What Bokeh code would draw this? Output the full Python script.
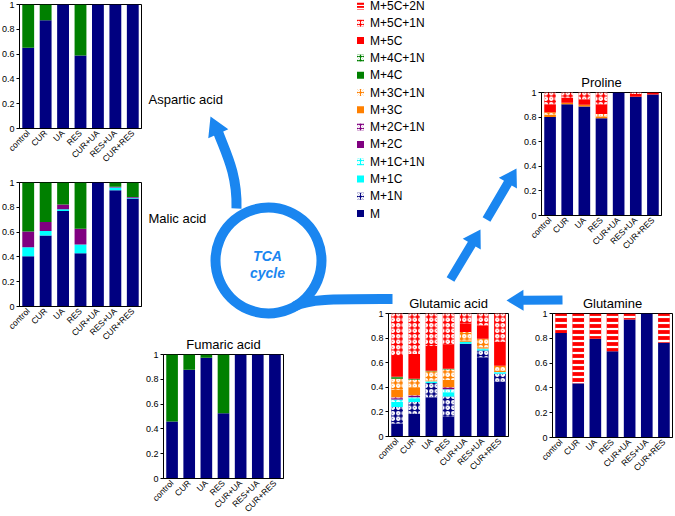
from math import pi, hypot
from bokeh.plotting import figure
from bokeh.models import GridBox, Range1d, FactorRange, ColumnDataSource, FixedTicker
from bokeh.embed import file_html
from bokeh.resources import INLINE
from bokeh.core.properties import value

# ---------------- data ----------------
categories = ["control", "CUR", "UA", "RES", "CUR+UA", "RES+UA", "CUR+RES"]

# Aspartic acid
asp_M   = [0.651, 0.873, 1.000, 0.589, 1.000, 1.000, 1.000]
asp_M4C = [0.349, 0.127, 0.000, 0.411, 0.000, 0.000, 0.000]

# Malic acid
mal_M   = [0.405, 0.573, 0.770, 0.430, 1.000, 0.938, 0.870]
mal_M1C = [0.073, 0.035, 0.014, 0.070, 0.000, 0.021, 0.008]
mal_M2C = [0.127, 0.073, 0.038, 0.127, 0.000, 0.006, 0.006]
mal_M4C = [0.395, 0.319, 0.178, 0.373, 0.000, 0.035, 0.116]

# Fumaric acid
fum_M   = [0.459, 0.878, 0.973, 0.527, 1.000, 1.000, 1.000]
fum_M4C = [0.541, 0.122, 0.027, 0.473, 0.000, 0.000, 0.000]

# Proline
pro_M     = [0.800, 0.905, 0.886, 0.790, 1.000, 0.965, 0.984]
pro_M3C   = [0.020, 0.012, 0.014, 0.015, 0.000, 0.000, 0.000]
pro_M3C1N = [0.020, 0.000, 0.000, 0.020, 0.000, 0.000, 0.000]
pro_M5C   = [0.065, 0.040, 0.046, 0.080, 0.000, 0.022, 0.016]
pro_M5C1N = [0.095, 0.043, 0.054, 0.095, 0.000, 0.013, 0.000]

# Glutamic acid
glu_M     = [0.105, 0.185, 0.320, 0.160, 0.755, 0.645, 0.445]
glu_M1N   = [0.135, 0.095, 0.115, 0.165, 0.000, 0.055, 0.065]
glu_M1C   = [0.040, 0.030, 0.010, 0.035, 0.015, 0.010, 0.010]
glu_M1C1N = [0.020, 0.010, 0.005, 0.025, 0.000, 0.005, 0.005]
glu_M2C   = [0.010, 0.010, 0.000, 0.010, 0.000, 0.000, 0.000]
glu_M2C1N = [0.010, 0.005, 0.000, 0.005, 0.000, 0.000, 0.000]
glu_M3C   = [0.060, 0.065, 0.005, 0.060, 0.010, 0.010, 0.010]
glu_M3C1N = [0.090, 0.060, 0.075, 0.080, 0.070, 0.070, 0.040]
glu_M4C   = [0.010, 0.005, 0.005, 0.005, 0.000, 0.000, 0.000]
glu_M4C1N = [0.005, 0.005, 0.000, 0.005, 0.000, 0.000, 0.000]
glu_M5C   = [0.170, 0.200, 0.200, 0.200, 0.070, 0.110, 0.195]
glu_M5C1N = [0.345, 0.330, 0.265, 0.250, 0.080, 0.095, 0.230]

# Glutamine
gln_M     = [0.843, 0.438, 0.797, 0.695, 0.951, 1.000, 0.765]
gln_M5C2N = [0.157, 0.562, 0.203, 0.305, 0.049, 0.000, 0.235]

legend_labels = ["M+5C+2N", "M+5C+1N", "M+5C", "M+4C+1N", "M+4C", "M+3C+1N", "M+3C",
                 "M+2C+1N", "M+2C", "M+1C+1N", "M+1C", "M+1N", "M"]

# ---------------- styles ----------------
NAVY, CYAN, PURPLE, ORANGE, GREEN, RED = "#000080", "#00FFFF", "#800080", "#FF8000", "#008000", "#FF0000"
STYLE = {
    "M": (NAVY, "blank"), "M+1N": (NAVY, "ring"),
    "M+1C": (CYAN, "blank"), "M+1C+1N": (CYAN, "ring"),
    "M+2C": (PURPLE, "blank"), "M+2C+1N": (PURPLE, "ring"),
    "M+3C": (ORANGE, "blank"), "M+3C+1N": (ORANGE, "ring"),
    "M+4C": (GREEN, "blank"), "M+4C+1N": (GREEN, "ring"),
    "M+5C": (RED, "blank"), "M+5C+1N": (RED, "ring"),
    "M+5C+2N": (RED, "horizontal_line"),
}
HSCALE = {"blank": 5, "ring": 5.5, "horizontal_line": 6}
HWEIGHT = {"blank": 1, "ring": 1.8, "horizontal_line": 2.2}
BLUE = "#1a86f0"
FONT = "Liberation Sans"

PAGE_W, PAGE_H = 675, 516
# common panel borders (all panels share one grid cell, so Bokeh aligns their borders);
# each one is larger than what the axes / titles need, so the frames land exactly
ML, MR, MT, MB = 26, 2, 24, 52
CELL_X, CELL_Y = 1, 1


def panel(title, names, lists, box):
    fl, ft, fr, fb = box
    W, H = round(fr - fl), round(fb - ft)
    data = {"cat": categories}
    keys = []
    for i, (n, v) in enumerate(zip(names, lists)):
        k = "s%d" % i
        data[k] = v
        keys.append(k)
    src = ColumnDataSource(data)
    p = figure(x_range=FactorRange(*categories), y_range=Range1d(0, 1),
               width=W + ML + MR, height=H + MT + MB,
               min_border_left=ML, min_border_right=MR, min_border_top=MT, min_border_bottom=MB,
               toolbar_location=None, output_backend="svg", title=title,
               margin=(round(ft) - CELL_Y - MT, 0, 0, round(fl) - CELL_X - ML), align="start")
    p.vbar_stack(keys, x="cat", width=0.68, source=src,
                 fill_color=[STYLE[n][0] for n in names],
                 hatch_pattern=[STYLE[n][1] for n in names],
                 hatch_scale=[HSCALE[STYLE[n][1]] for n in names],
                 hatch_weight=[HWEIGHT[STYLE[n][1]] for n in names],
                 hatch_color="white", line_color=None)
    p.x_range.range_padding = 0
    p.xgrid.visible = False
    p.ygrid.visible = False
    p.outline_line_color = "black"
    p.outline_line_width = 1
    p.border_fill_color = None
    p.background_fill_color = "white"
    p.axis.axis_line_color = "black"
    p.axis.major_label_text_font = FONT
    p.axis.major_label_text_color = "black"
    p.xaxis.major_label_orientation = pi / 4
    p.xaxis.major_tick_line_color = None
    p.xaxis.minor_tick_line_color = None
    p.xaxis.major_tick_out = 0
    p.xaxis.major_tick_in = 0
    p.xaxis.major_label_text_font_size = "8.5px"
    p.xaxis.major_label_standoff = 3
    p.yaxis.ticker = FixedTicker(ticks=[0, 0.2, 0.4, 0.6, 0.8, 1.0])
    p.yaxis.major_label_overrides = {0: "0"}
    p.yaxis.major_tick_out = 3
    p.yaxis.major_tick_in = 0
    p.yaxis.minor_tick_line_color = None
    p.yaxis.major_label_standoff = 2
    p.yaxis.major_label_text_font_size = "9px"
    if title:
        p.title.text_font = FONT
        p.title.text_font_size = "13px"
        p.title.text_font_style = "normal"
        p.title.text_color = "black"
        p.title.align = "center"
        p.title.standoff = 6
    return p


# ---------------- background diagram ----------------
bg = figure(width=PAGE_W, height=PAGE_H, x_range=Range1d(0, PAGE_W), y_range=Range1d(PAGE_H, 0),
            x_axis_type=None, y_axis_type=None, toolbar_location=None, output_backend="svg",
            min_border=0, outline_line_color=None, align="start", title=None)
bg.xgrid.visible = False
bg.ygrid.visible = False


def block_arrow(tail, tip, stem_w, head_len, head_w):
    tx, ty = tail
    hx, hy = tip
    dx, dy = hx - tx, hy - ty
    ln = hypot(dx, dy)
    ux, uy = dx / ln, dy / ln
    nx, ny = -uy, ux
    bx, by = hx - ux * head_len, hy - uy * head_len
    pts = [(tx + nx * stem_w / 2, ty + ny * stem_w / 2), (bx + nx * stem_w / 2, by + ny * stem_w / 2),
           (bx + nx * head_w / 2, by + ny * head_w / 2), (hx, hy),
           (bx - nx * head_w / 2, by - ny * head_w / 2), (bx - nx * stem_w / 2, by - ny * stem_w / 2),
           (tx - nx * stem_w / 2, ty - ny * stem_w / 2)]
    return [q[0] for q in pts], [q[1] for q in pts]


# TCA ring
bg.annulus(x=[268], y=[260], inner_radius=48, outer_radius=58, fill_color=BLUE, line_color=None)
# curved arrow to aspartic acid
bg.bezier(x0=[236], y0=[208], x1=[217], y1=[130], cx0=[237], cy0=[172], cx1=[224], cy1=[150],
          line_width=10, line_color=BLUE)
hx, hy = block_arrow((219, 136), (210, 116), 0.1, 19, 22)
bg.patch(hx, hy, fill_color=BLUE, line_color=None)
# tail leaving the ring towards glutamic acid
bg.bezier(x0=[294], y0=[306], x1=[392], y1=[298.5], cx0=[308], cy0=[298], cx1=[335], cy1=[298.5],
          line_width=10, line_color=BLUE)
# straight arrows
arrows = [((562, 299.5), (506, 300)), ((450, 279), (480, 229)), ((486, 219), (516, 168))]
axs, ays = [], []
for tail, tip in arrows:
    a, b = block_arrow(tail, tip, 9, 17, 21)
    axs.append(a)
    ays.append(b)
bg.patches(axs, ays, fill_color=BLUE, line_color=None)

bg.text(x=[267, 267], y=[255, 272], text=["TCA", "cycle"], text_color=BLUE,
        text_font=value(FONT), text_font_size="14px", text_font_style="bold italic",
        text_align="center", text_baseline="middle")
bg.text(x=[148, 148], y=[99, 218], text=["Aspartic acid", "Malic acid"], text_color="black",
        text_font=value(FONT), text_font_size="13px", text_align="left", text_baseline="middle")

# legend (drawn as swatches + labels)
leg_y = [5.5 + 17.3 * i for i in range(len(legend_labels))]
leg_src = ColumnDataSource(dict(
    x=[360] * len(legend_labels), y=leg_y, tx=[369.5] * len(legend_labels), label=legend_labels,
    color=[STYLE[n][0] for n in legend_labels], hatch=[STYLE[n][1] for n in legend_labels],
    hscale=[4 if STYLE[n][1] == "ring" else 3 for n in legend_labels],
))
bg.rect(x="x", y="y", width=7, height=7, source=leg_src, fill_color="color", line_color=None,
        hatch_pattern="hatch", hatch_color="white", hatch_scale="hscale", hatch_weight=1.3)
bg.text(x="tx", y="y", text="label", source=leg_src, text_font=value(FONT), text_font_size="12px",
        text_color="black", text_align="left", text_baseline="middle")

# ---------------- panels ----------------
p_asp = panel(None, ["M", "M+4C"], [asp_M, asp_M4C], (19, 4.5, 141, 128))
p_mal = panel(None, ["M", "M+1C", "M+2C", "M+4C"], [mal_M, mal_M1C, mal_M2C, mal_M4C], (19, 181.7, 141, 305.7))
p_fum = panel("Fumaric acid", ["M", "M+4C"], [fum_M, fum_M4C], (163, 354, 283, 478))
p_pro = panel("Proline", ["M", "M+3C", "M+3C+1N", "M+5C", "M+5C+1N"],
              [pro_M, pro_M3C, pro_M3C1N, pro_M5C, pro_M5C1N], (541, 92, 661, 215))
p_glu = panel("Glutamic acid",
              ["M", "M+1N", "M+1C", "M+1C+1N", "M+2C", "M+2C+1N", "M+3C", "M+3C+1N", "M+4C", "M+4C+1N", "M+5C", "M+5C+1N"],
              [glu_M, glu_M1N, glu_M1C, glu_M1C1N, glu_M2C, glu_M2C1N, glu_M3C, glu_M3C1N, glu_M4C, glu_M4C1N, glu_M5C, glu_M5C1N],
              (388, 312.7, 508, 436))
p_gln = panel("Glutamine", ["M", "M+5C+2N"], [gln_M, gln_M5C2N], (552, 313, 672, 436.7))

# background spans the whole grid; all panels share the inner cell, offset by their margins.
# The inner cell is taller than the page (so no panel is squeezed) and the grid clips to the page.
panels = [p_asp, p_mal, p_fum, p_pro, p_glu, p_gln]
kids = [(bg, 0, 0, 3, 3)] + [(pp, 1, 1) for pp in panels]
grid = GridBox(children=kids,
               rows=["%dpx" % CELL_Y, "%dpx" % (PAGE_H + 60), "%dpx" % CELL_Y],
               cols=["%dpx" % CELL_X, "%dpx" % (PAGE_W - 2 * CELL_X), "%dpx" % CELL_X],
               width=PAGE_W, height=PAGE_H, styles={"overflow": "hidden"})

open("out.html", "w").write(file_html(grid, INLINE))
